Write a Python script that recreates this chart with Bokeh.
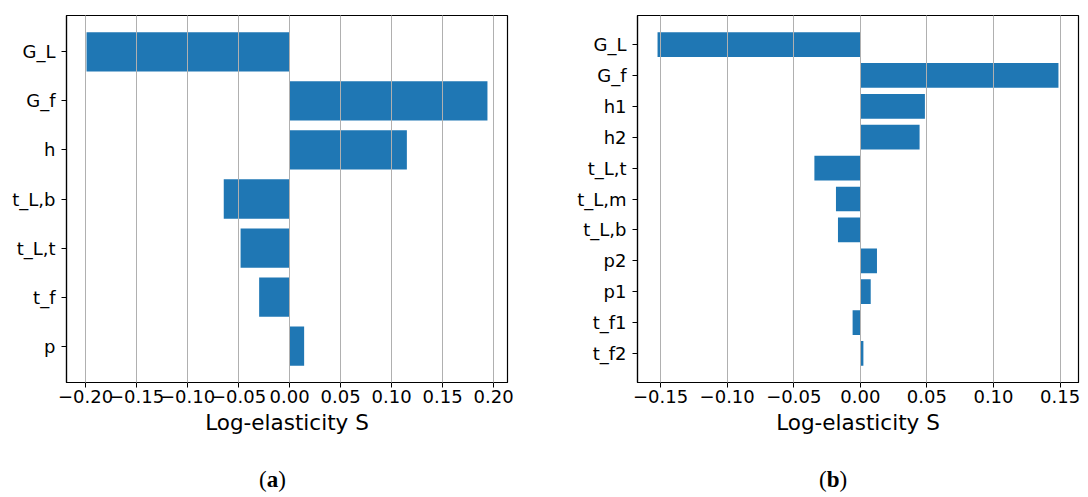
from bokeh.plotting import figure
from bokeh.models import FactorRange, Range1d, FixedTicker, Div
from bokeh.layouts import row, column
from bokeh.embed import file_html
from bokeh.resources import INLINE

# Panel (a): sensitivity of the response to each parameter
params_a = ["G_L", "G_f", "h", "t_L,b", "t_L,t", "t_f", "p"]
elast_a = [-0.199, 0.194, 0.115, -0.0645, -0.048, -0.0298, 0.0143]
ticks_a = [-0.20, -0.15, -0.10, -0.05, 0.00, 0.05, 0.10, 0.15, 0.20]

# Panel (b): refined parameter set
params_b = ["G_L", "G_f", "h1", "h2", "t_L,t", "t_L,m", "t_L,b", "p2", "p1", "t_f1", "t_f2"]
elast_b = [-0.1523, 0.1488, 0.0485, 0.0445, -0.0345, -0.0183, -0.0168, 0.0125, 0.0078, -0.0058, 0.0023]
ticks_b = [-0.15, -0.10, -0.05, 0.00, 0.05, 0.10, 0.15]

xlabel = "Log-elasticity S"

BAR = "#1f77b4"
FONT = "DejaVu Sans"


def make_panel(params, vals, ticks, pad, border_left, border_right):
    lo, hi = min(vals), max(vals)
    margin = 0.05 * (hi - lo)
    p = figure(
        y_range=FactorRange(factors=list(reversed(params)), range_padding=pad,
                            range_padding_units="absolute"),
        x_range=Range1d(lo - margin, hi + margin),
        frame_width=441, frame_height=367,
        min_border_left=border_left, min_border_right=border_right,
        min_border_top=15, min_border_bottom=68,
        output_backend="svg", toolbar_location=None,
    )
    p.hbar(y=params, left=0, right=vals, height=0.8, fill_color=BAR, line_color=None)

    p.outline_line_color = "black"
    p.outline_line_width = 1.2
    p.background_fill_color = "white"
    p.border_fill_color = "white"

    p.ygrid.visible = False
    p.xgrid.grid_line_color = "#b0b0b0"
    p.xgrid.grid_line_width = 1
    p.xgrid.level = "overlay"

    p.xaxis.ticker = FixedTicker(ticks=ticks)
    p.xaxis.major_label_overrides = {t: (f"{t:.2f}".replace("-", "\u2212")) for t in ticks}
    p.xaxis.axis_label = xlabel
    p.xaxis.axis_label_text_font = FONT
    p.xaxis.axis_label_text_font_size = "21.5px"
    p.xaxis.axis_label_text_font_style = "normal"
    p.xaxis.axis_label_text_color = "black"
    p.xaxis.axis_label_standoff = 4

    for ax in (p.xaxis, p.yaxis):
        ax.axis_line_color = "black"
        ax.axis_line_width = 1.2
        ax.major_tick_line_color = "black"
        ax.major_tick_in = 0
        ax.major_tick_out = 5
        ax.minor_tick_line_color = None
        ax.major_label_text_font = FONT
        ax.major_label_text_font_size = "18px"
        ax.major_label_text_color = "black"
    p.xaxis.major_label_standoff = 2
    p.yaxis.major_label_standoff = 6
    return p


pa = make_panel(params_a, elast_a, ticks_a, 0.24, 66, 37)
pb = make_panel(params_b, elast_b, ticks_b, 0.44, 93, 10)

caption = Div(
    text=(
        '<div style="position:relative;width:1088px;height:47px;'
        'font-family:\'Liberation Serif\',serif;font-size:23px;color:black;">'
        '<span style="position:absolute;left:254px;top:9px;">(<b>a</b>)</span>'
        '<span style="position:absolute;left:814px;top:9px;">(<b>b</b>)</span>'
        '</div>'
    ),
    width=1088, height=47,
)

layout = column(row(pa, pb, spacing=0), caption, spacing=0)

with open("out.html", "w") as f:
    f.write(file_html(layout, INLINE))
